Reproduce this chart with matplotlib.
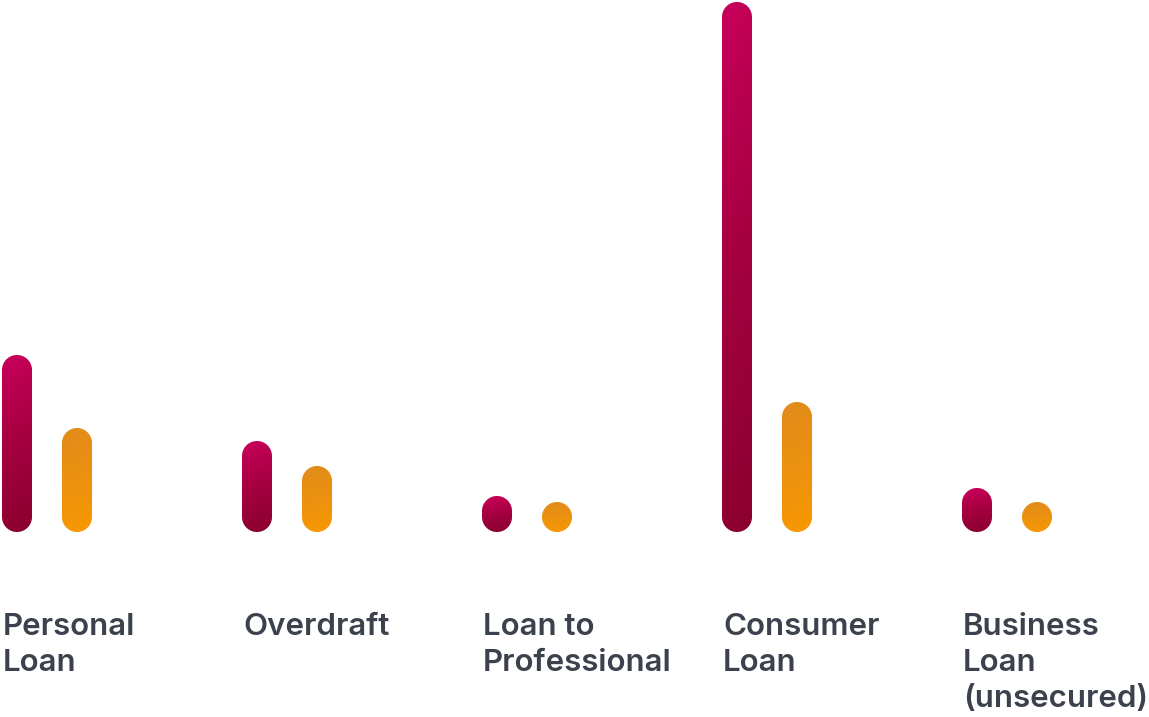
import matplotlib.pyplot as plt
import numpy as np
from matplotlib.patches import Polygon
from matplotlib.colors import LinearSegmentedColormap

categories = ['Personal\nLoan', 'Overdraft', 'Loan to\nProfessional', 'Consumer\nLoan',
              'Business\nLoan\n(unsecured)']
# bar lengths above the rounded cap (pixel-ish units)
pink_vals = [147, 61, 6, 500, 14]
orange_vals = [74, 36, 0, 100, 0]

W, H = 1149, 717
fig = plt.figure(figsize=(W / 100, H / 100), dpi=100)
ax = fig.add_axes([0, 0, 1, 1])
ax.set_xlim(0, W)
ax.set_ylim(H, 0)
ax.axis('off')

base = 532      # baseline in pixels
bw = 30         # bar width
step = 240      # group spacing
x0 = 2
gap = 60

pink_cm = LinearSegmentedColormap.from_list('pk', ['#c9005b', '#a4003f', '#8a002e'])
orange_cm = LinearSegmentedColormap.from_list('or', ['#e18b1a', '#ec9110', '#f99800'])


def rounded_bar(x, val, cmap):
    r = bw / 2
    cx = x + r
    top = base - val - bw
    t = np.linspace(np.pi, 2 * np.pi, 60)
    # top cap (y axis is inverted, so sin<0 goes up)
    top_pts = np.column_stack([cx + r * np.cos(t), top + r + r * np.sin(t)])
    t2 = np.linspace(0, np.pi, 60)
    bot_pts = np.column_stack([cx + r * np.cos(t2), base - r + r * np.sin(t2)])
    pts = np.vstack([top_pts, bot_pts])
    patch = Polygon(pts, closed=True, linewidth=0, facecolor='none')
    ax.add_patch(patch)
    yy, xx = np.mgrid[0:1:200j, 0:1:20j]
    grad = yy * 0.9 + xx * 0.1
    im = ax.imshow(grad, cmap=cmap, extent=(x, x + bw, base, top),
                   origin='upper', aspect='auto', interpolation='bilinear', zorder=2)
    im.set_clip_path(patch)


for i, cat in enumerate(categories):
    gx = x0 + i * step
    rounded_bar(gx, pink_vals[i], pink_cm)
    rounded_bar(gx + gap, orange_vals[i], orange_cm)
    ax.text(gx + 1, 613, cat, ha='left', va='top', fontsize=22.5, family='Inter',
            fontweight='semibold', color='#3c414e', linespacing=1.36)

fig.savefig('out.png', dpi=100, facecolor='white')
